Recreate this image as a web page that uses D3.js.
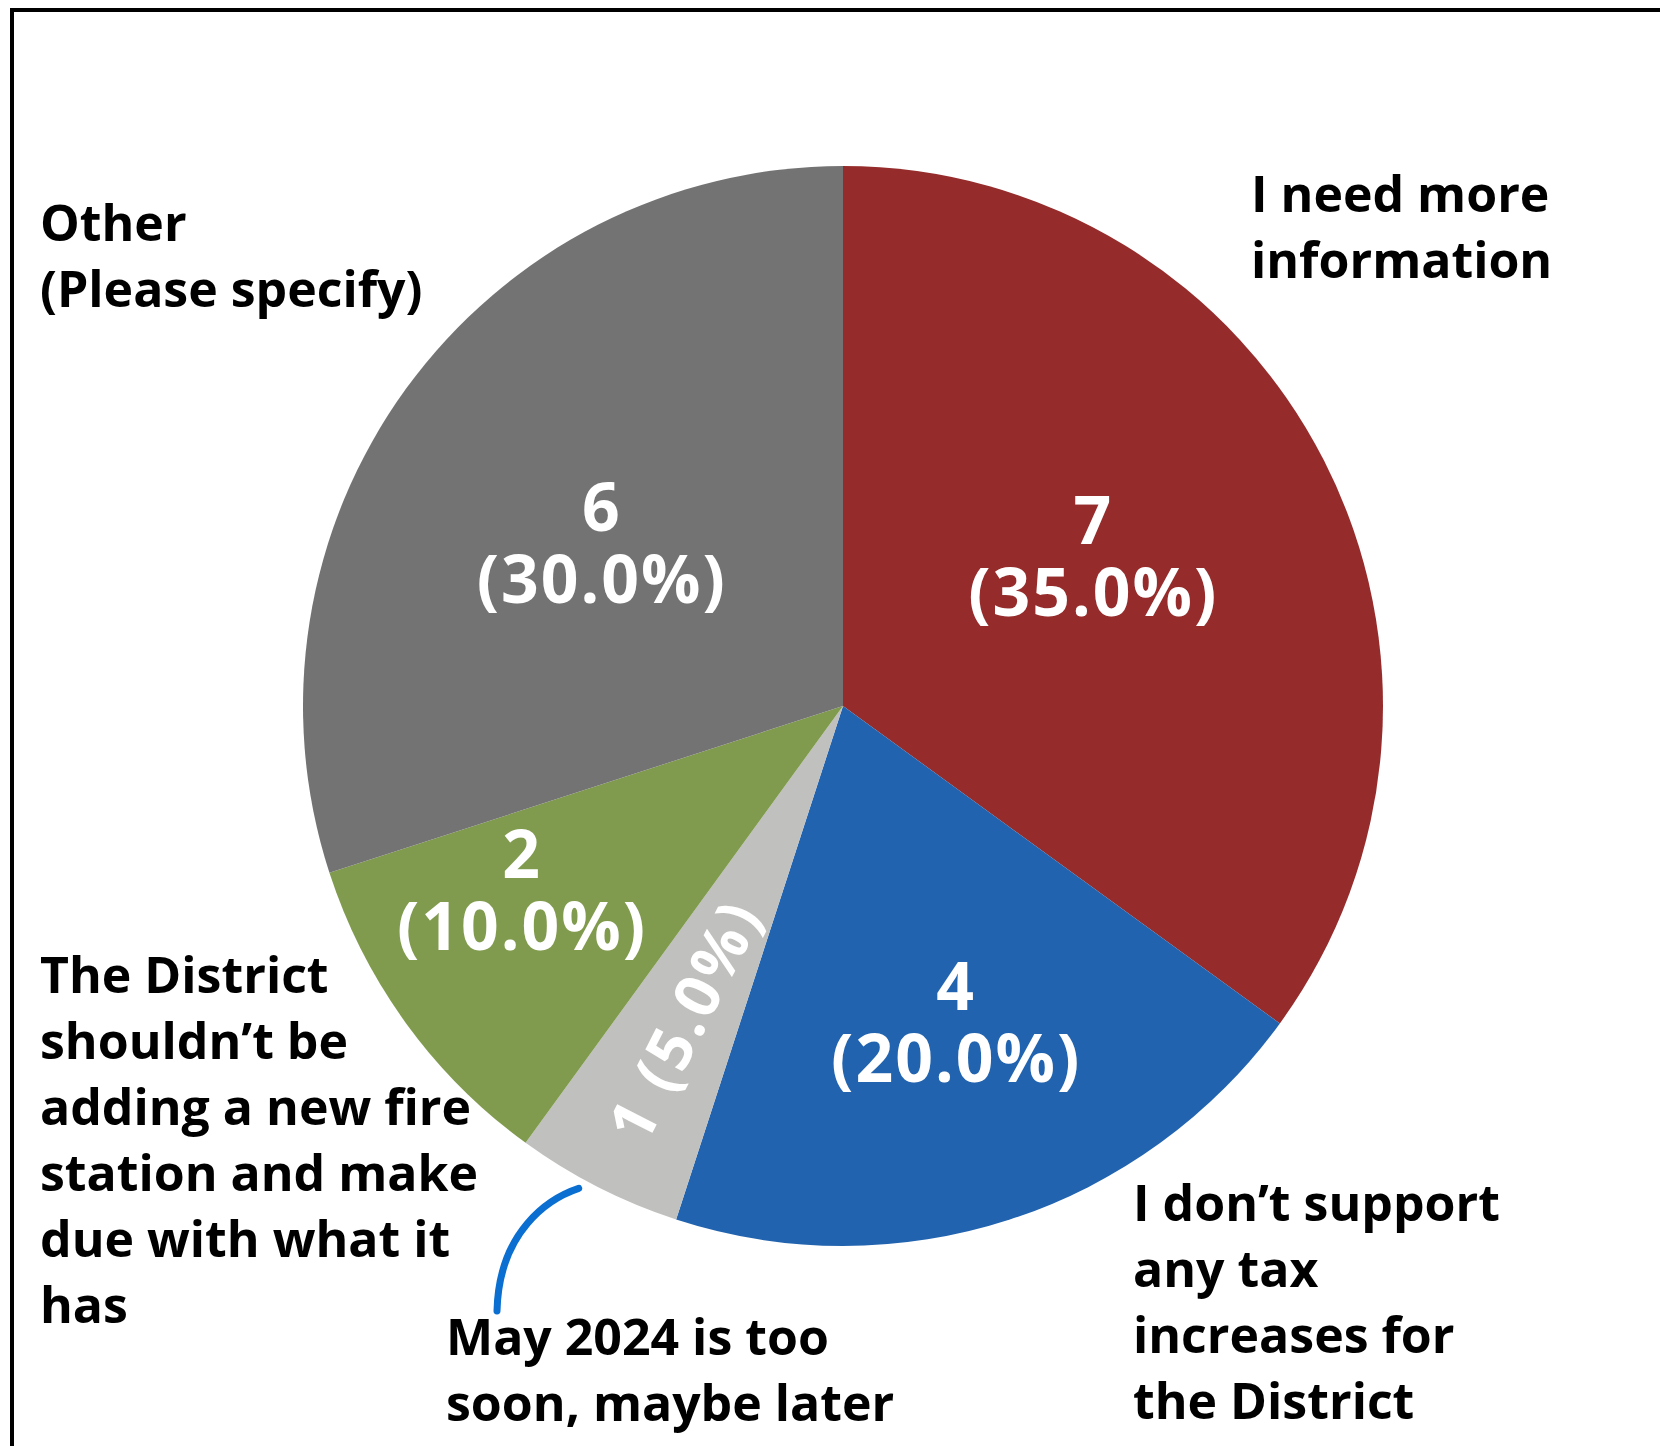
<!DOCTYPE html>
<html>
<head>
<meta charset="UTF-8">
<title>Pie chart</title>
<script src="https://cdn.jsdelivr.net/npm/d3@7"></script>
<style>
  body { margin: 0; background: #fff; }
  svg text { font-family: "Open Sans", sans-serif; font-weight: 700; }
</style>
</head>
<body>
<div id="chart"></div>
<script>
// data
var categories = ["I need more information", "I don’t support any tax increases for the District",
  "May 2024 is too soon, maybe later", "The District shouldn’t be adding a new fire station and make due with what it has",
  "Other (Please specify)"];
var counts = [7, 4, 1, 2, 6];
var percents = ["35.0%", "20.0%", "5.0%", "10.0%", "30.0%"];
var colors = ["#952b2b", "#2163ae", "#c0c0be", "#809b4e", "#737373"];
// wrapped label lines as in the picture
var labelLines = [
  ["I need more", "information"],
  ["I don’t support", "any tax", "increases for", "the District"],
  ["May 2024 is too", "soon, maybe later"],
  ["The District", "shouldn’t be", "adding a new fire", "station and make", "due with what it", "has"],
  ["Other", "(Please specify)"]
];

var width = 1660, height = 1446;
var cx = 843, cy = 706, R = 540;

var svg = d3.select("#chart").append("svg")
  .attr("width", width)
  .attr("height", height);

svg.append("rect").attr("width", width).attr("height", height).attr("fill", "#fff");

// frame (runs off right and bottom edge)
svg.append("rect")
  .attr("x", 12).attr("y", 10)
  .attr("width", width).attr("height", height)
  .attr("fill", "none").attr("stroke", "#000").attr("stroke-width", 4);

var pie = d3.pie().sort(null).value(function (d) { return d; });
var arcs = pie(counts);
var arc = d3.arc().innerRadius(0).outerRadius(R);

var g = svg.append("g").attr("transform", "translate(" + cx + "," + cy + ")");

g.selectAll("path")
  .data(arcs)
  .enter().append("path")
  .attr("d", arc)
  .attr("fill", function (d, i) { return colors[i]; });

// value labels: distance from centre and a small nudge, like excel best fit
var labelR = [291, 334, 352, 372, 292];
var nudge = [[-9, -16], [10, 0], [0, 0], [-20, -33], [-5, 11]];
function pos(d, i) {
  var a = (d.startAngle + d.endAngle) / 2;
  return [Math.sin(a) * labelR[i] + nudge[i][0], -Math.cos(a) * labelR[i] + nudge[i][1]];
}

arcs.forEach(function (d, i) {
  var p = pos(d, i);
  if (i === 2) {
    var a = (d.startAngle + d.endAngle) / 2 * 180 / Math.PI;
    g.append("text")
      .attr("transform", "translate(" + p[0] + "," + p[1] + ") rotate(" + (a - 270) + ")")
      .attr("text-anchor", "middle")
      .attr("dominant-baseline", "central")
      .attr("fill", "#fff")
      .attr("font-size", 62)
      .attr("letter-spacing", 3)
      .text(counts[i] + " (" + percents[i] + ")");
  } else {
    var t = g.append("text")
      .attr("text-anchor", "middle")
      .attr("fill", "#fff")
      .attr("font-size", 66)
      .attr("letter-spacing", 2);
    t.append("tspan").attr("x", p[0]).attr("y", p[1] - 14).text(counts[i]);
    t.append("tspan").attr("x", p[0]).attr("y", p[1] + 58).text("(" + percents[i] + ")");
  }
});

// category labels
var catPos = [[1251, 212], [1133, 1221], [446, 1355], [40, 993], [40, 241]];
labelLines.forEach(function (lines, i) {
  var t = svg.append("text")
    .attr("font-size", 50)
    .attr("fill", "#000");
  lines.forEach(function (s, j) {
    t.append("tspan")
      .attr("x", catPos[i][0])
      .attr("y", catPos[i][1] + j * 66)
      .text(s);
  });
});

// hand drawn pointer to the small slice
var small = arcs[2];
var a0 = (small.startAngle + small.endAngle) / 2 + 0.03;
var sx = cx + Math.sin(a0) * (R + 10), sy = cy - Math.cos(a0) * (R + 10);
var ex = 497, ey = 1311;
svg.append("path")
  .attr("d", "M" + sx + "," + sy + " C" + (sx - 30) + "," + (sy + 10) + " " + (ex + 2) + "," + (ey - 80) + " " + ex + "," + ey)
  .attr("fill", "none")
  .attr("stroke", "#0a6fd1")
  .attr("stroke-width", 7)
  .attr("stroke-linecap", "round");
</script>
</body>
</html>
